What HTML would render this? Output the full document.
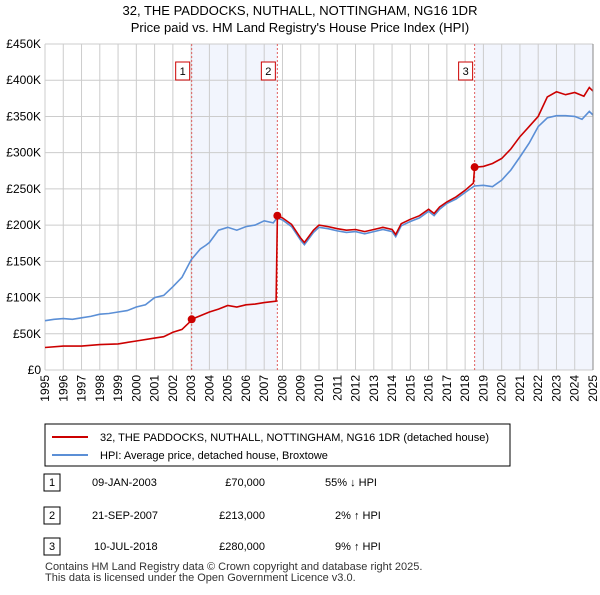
<!DOCTYPE html>
<html><head><meta charset="utf-8"><style>
body{margin:0;background:#fff;font-family:"Liberation Sans",sans-serif;}
svg text{font-family:"Liberation Sans",sans-serif;}
</style></head><body>
<svg id="c" width="600" height="590" xmlns="http://www.w3.org/2000/svg">
<text x="300" y="15" text-anchor="middle" font-size="13">32, THE PADDOCKS, NUTHALL, NOTTINGHAM, NG16 1DR</text>
<text x="300" y="32" text-anchor="middle" font-size="13">Price paid vs. HM Land Registry's House Price Index (HPI)</text>
<g id="plot"></g>
<rect x="45" y="424" width="465" height="42" fill="#fff" stroke="#000"/>
<line x1="52" y1="437" x2="88" y2="437" stroke="#cc0000" stroke-width="2"/>
<text x="100" y="441" font-size="11">32, THE PADDOCKS, NUTHALL, NOTTINGHAM, NG16 1DR (detached house)</text>
<line x1="52" y1="455" x2="88" y2="455" stroke="#5b8fd6" stroke-width="2"/>
<text x="100" y="459" font-size="11">HPI: Average price, detached house, Broxtowe</text>
<g font-size="11">
<rect x="44" y="474" width="16" height="17" fill="#fff" stroke="#000"/><text x="52" y="486" text-anchor="middle">1</text>
<text x="92" y="486">09-JAN-2003</text><text x="265" y="486" text-anchor="end">£70,000</text><text x="325" y="486">55% ↓ HPI</text>
<rect x="44" y="507" width="16" height="17" fill="#fff" stroke="#000"/><text x="52" y="519" text-anchor="middle">2</text>
<text x="92" y="519">21-SEP-2007</text><text x="265" y="519" text-anchor="end">£213,000</text><text x="335" y="519">2% ↑ HPI</text>
<rect x="44" y="538" width="16" height="17" fill="#fff" stroke="#000"/><text x="52" y="550" text-anchor="middle">3</text>
<text x="94" y="550">10-JUL-2018</text><text x="265" y="550" text-anchor="end">£280,000</text><text x="335" y="550">9% ↑ HPI</text>
</g>
<text x="45" y="570" font-size="11" fill="#333">Contains HM Land Registry data © Crown copyright and database right 2025.</text>
<text x="45" y="581" font-size="11" fill="#333">This data is licensed under the Open Government Licence v3.0.</text>
</svg>
<script>
const hpiYears=[1995,1995.5,1996,1996.5,1997,1997.5,1998,1998.5,1999,1999.5,2000,2000.5,2001,2001.5,2002,2002.5,2003,2003.5,2003.8,2004,2004.5,2005,2005.5,2006,2006.5,2007,2007.5,2007.7,2008,2008.5,2009,2009.2,2009.7,2010,2010.5,2011,2011.5,2012,2012.5,2013,2013.5,2014,2014.2,2014.5,2015,2015.5,2016,2016.3,2016.6,2017,2017.5,2018,2018.5,2019,2019.5,2020,2020.5,2021,2021.5,2022,2022.5,2023,2023.5,2024,2024.4,2024.8,2025];
const hpiValues=[68,70,71,70,72,74,77,78,80,82,87,90,100,103,115,128,152,167,172,176,193,197,193,198,200,206,203,210,207,198,179,173,190,197,195,192,190,191,188,191,194,191,184,199,205,210,219,213,222,230,236,245,254,255,253,262,276,294,313,336,348,351,351,350,346,357,352];
const saleYears=[2003.03,2007.72,2018.52];
const saleValues=[70,213,280];
const saleLabels=["1","2","3"];
const ppYears=[1995,1996,1997,1998,1999,2000,2001,2001.5,2002,2002.5,2003,2003.03,2003.5,2004,2004.5,2005,2005.5,2006,2006.5,2007,2007.65,2007.72,2008,2008.5,2009,2009.2,2009.7,2010,2010.5,2011,2011.5,2012,2012.5,2013,2013.5,2014,2014.2,2014.5,2015,2015.5,2016,2016.3,2016.6,2017,2017.5,2018,2018.45,2018.52,2019,2019.5,2020,2020.5,2021,2021.5,2022,2022.5,2023,2023.5,2024,2024.5,2024.8,2025];
const ppValues=[31,33,33,35,36,40,44,46,52,56,68,70,75,80,84,89,87,90,91,93,95,213,210,201,182,176,193,200,198,195,193,194,191,194,197,194,187,202,208,213,222,216,225,232,239,248,258,280,281,285,292,305,322,336,350,377,384,380,383,378,390,385];
const yTicks=[0,50,100,150,200,250,300,350,400,450];
const yTickLabels=["£0","£50K","£100K","£150K","£200K","£250K","£300K","£350K","£400K","£450K"];
const xTicks=[1995,1996,1997,1998,1999,2000,2001,2002,2003,2004,2005,2006,2007,2008,2009,2010,2011,2012,2013,2014,2015,2016,2017,2018,2019,2020,2021,2022,2023,2024,2025];

const X0=45,X1=593,Y0=370,Y1=44;
const xs=y=>X0+(y-1995)/30*(X1-X0);
const ys=v=>Y0-v/450*(Y0-Y1);
const NS="http://www.w3.org/2000/svg";
const g=document.getElementById('plot');
function mk(t,a){const e=document.createElementNS(NS,t);for(const k in a)e.setAttribute(k,a[k]);g.appendChild(e);return e;}
let r=mk('rect',{x:xs(saleYears[0]),y:Y1,width:xs(saleYears[1])-xs(saleYears[0]),height:Y0-Y1,fill:'#f2f5fd'});


r=mk('rect',{x:xs(saleYears[2]),y:Y1,width:X1-xs(saleYears[2]),height:Y0-Y1,fill:'#f2f5fd'});


yTicks.forEach((v,i)=>{
 const l=mk('line',{x1:X0,x2:X1,y1:ys(v),y2:ys(v),stroke:'#ccc'});
 
 
 const t=mk('text',{x:X0-4,y:ys(v)+4,'text-anchor':'end','font-size':'12'});t.textContent=yTickLabels[i];
 
 
});
xTicks.forEach(y=>{
 const l=mk('line',{x1:xs(y),x2:xs(y),y1:Y1,y2:Y0,stroke:'#ccc'});
 
 
 const t=mk('text',{x:0,y:0,'text-anchor':'end','font-size':'12',transform:`translate(${xs(y)+4},${Y0+5}) rotate(-90)`});t.textContent=y;
 
 
});
saleYears.forEach((y,i)=>{
 const l=mk('line',{x1:xs(y),x2:xs(y),y1:Y1,y2:Y0,stroke:'#e06060','stroke-dasharray':'2,2'});
 
 
 const b=mk('rect',{x:xs(y)-16,y:62,width:14,height:18,fill:'#fff',stroke:'#cc0000'});
 
 
 const t=mk('text',{x:xs(y)-9,y:75,'text-anchor':'middle','font-size':'11'});t.textContent=saleLabels[i];
 
 
});
const pth=(xa,va)=>xa.map((y,i)=>(i?'L':'M')+xs(y).toFixed(1)+','+ys(va[i]).toFixed(1)).join('');
let p=mk('path',{d:pth(hpiYears,hpiValues),fill:'none',stroke:'#5b8fd6','stroke-width':1.6});


p=mk('path',{d:pth(ppYears,ppValues),fill:'none',stroke:'#cc0000','stroke-width':1.6});


saleYears.forEach((y,i)=>{
 const c=mk('circle',{cx:xs(y),cy:ys(saleValues[i]),r:4,fill:'#cc0000'});
 
 
});
const ax=mk('line',{x1:X1,x2:X1,y1:Y1,y2:Y0,stroke:'#888'});


</script>
</body></html>
